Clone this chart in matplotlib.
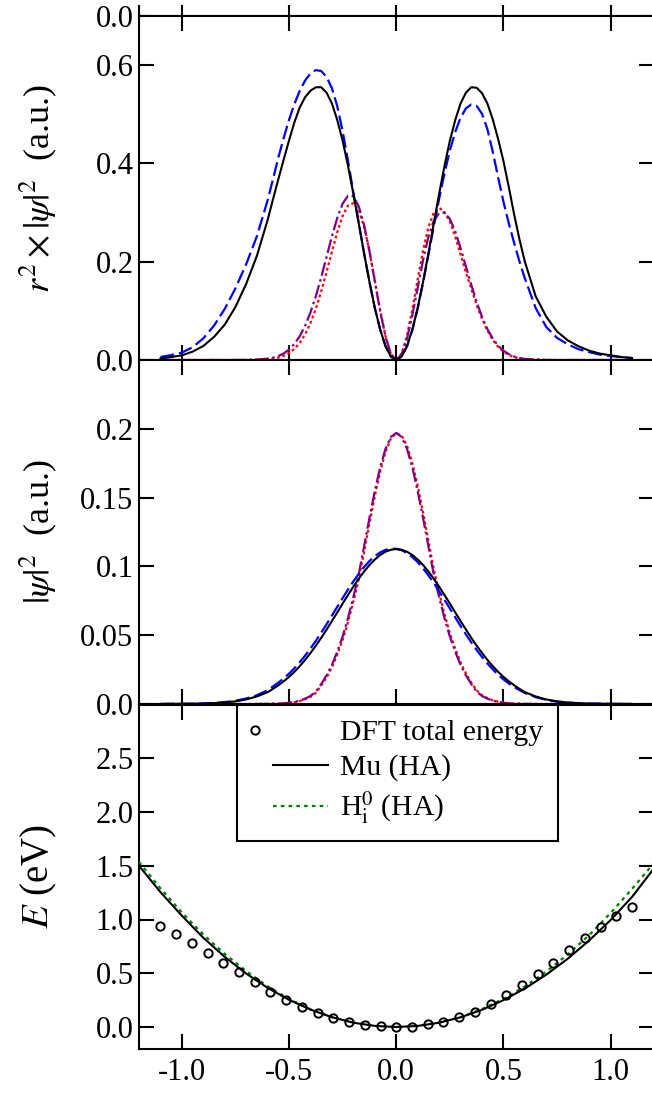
import matplotlib
matplotlib.use("Agg")
import matplotlib.pyplot as plt
from matplotlib.ticker import FixedLocator, FixedFormatter
from matplotlib.legend_handler import HandlerLine2D
from matplotlib.lines import Line2D
from matplotlib.patches import Rectangle

plt.rcParams.update({
    "font.family": ["Liberation Serif", "DejaVu Serif"],
    "mathtext.fontset": "stix",
    "axes.unicode_minus": False,
    "font.size": 22,
    "lines.scale_dashes": False,
})

# ---------------------------------------------------------------- data
# displacement grid for the wavefunction panels
x_wave = [-1.10, -1.05, -1.00, -0.95, -0.90, -0.85, -0.80, -0.75, -0.70, -0.65,
          -0.600, -0.575, -0.550, -0.525, -0.500, -0.475, -0.450, -0.425, -0.400, -0.375,
          -0.350, -0.325, -0.300, -0.275, -0.250, -0.225, -0.200, -0.175, -0.150, -0.125,
          -0.100, -0.075, -0.050, -0.025, 0.000, 0.025, 0.050, 0.075, 0.100, 0.125,
          0.150, 0.175, 0.200, 0.225, 0.250, 0.275, 0.300, 0.325, 0.350, 0.375,
          0.400, 0.425, 0.450, 0.475, 0.500, 0.525, 0.550, 0.575, 0.600,
          0.65, 0.70, 0.75, 0.80, 0.85, 0.90, 0.95, 1.00, 1.05, 1.10]

# r^2 |psi|^2
r2_solid = [0.003, 0.006, 0.0095, 0.017, 0.0285, 0.047, 0.072, 0.108, 0.155, 0.212,
            0.285, 0.327, 0.368, 0.408, 0.447, 0.484, 0.514, 0.535, 0.548, 0.555,
            0.555, 0.544, 0.522, 0.488, 0.446, 0.395, 0.338, 0.278, 0.217, 0.159,
            0.106, 0.062, 0.028, 0.007, 0.000, 0.007, 0.028, 0.062, 0.106, 0.159,
            0.217, 0.278, 0.338, 0.395, 0.446, 0.488, 0.522, 0.544, 0.555, 0.554,
            0.543, 0.522, 0.490, 0.450, 0.405, 0.352, 0.296, 0.245, 0.200,
            0.130, 0.088, 0.058, 0.040, 0.028, 0.019, 0.013, 0.0095, 0.006, 0.004]
r2_dashed = [0.006, 0.010, 0.015, 0.026, 0.044, 0.070, 0.104, 0.146, 0.195, 0.252,
             0.325, 0.368, 0.412, 0.452, 0.489, 0.521, 0.548, 0.569, 0.583, 0.590,
             0.588, 0.576, 0.553, 0.516, 0.465, 0.405, 0.341, 0.279, 0.217, 0.159,
             0.106, 0.062, 0.028, 0.007, 0.000, 0.007, 0.028, 0.061, 0.105, 0.157,
             0.214, 0.272, 0.328, 0.380, 0.426, 0.464, 0.493, 0.512, 0.520, 0.517,
             0.501, 0.470, 0.424, 0.372, 0.322, 0.278, 0.238, 0.200, 0.166,
             0.106, 0.067, 0.045, 0.032, 0.022, 0.016, 0.011, 0.008, 0.006, 0.004]
r2_dashdot = [0.0, 0.0, 0.0, 0.0, 0.0, 0.0, 0.0, 0.0, 0.0002, 0.0008,
              0.0028, 0.0048, 0.0082, 0.0134, 0.0212, 0.0327, 0.0485, 0.0698, 0.0970, 0.1301,
              0.1683, 0.2100, 0.2515, 0.2893, 0.3183, 0.3343, 0.3330, 0.3129, 0.2745, 0.2215,
              0.1603, 0.0992, 0.0472, 0.0123, 0.0, 0.011, 0.043, 0.091, 0.147, 0.203,
              0.251, 0.283, 0.299, 0.300, 0.287, 0.262, 0.228, 0.190, 0.153, 0.118,
              0.088, 0.063, 0.044, 0.029, 0.019, 0.012, 0.007, 0.004, 0.002,
              0.001, 0.0, 0.0, 0.0, 0.0, 0.0, 0.0, 0.0, 0.0, 0.0]
r2_dotted = [0.0, 0.0, 0.0, 0.0, 0.0, 0.0, 0.0, 0.0, 0.0001, 0.0005,
             0.0015, 0.0028, 0.0049, 0.0085, 0.0141, 0.0226, 0.0350, 0.0523, 0.0753, 0.1045,
             0.1396, 0.1793, 0.2208, 0.2604, 0.2934, 0.3145, 0.3192, 0.3049, 0.2713, 0.2216,
             0.1619, 0.1010, 0.0483, 0.0126, 0.0, 0.0130, 0.0495, 0.1030, 0.1641, 0.2228,
             0.2702, 0.3000, 0.3100, 0.3009, 0.282, 0.251, 0.215, 0.178, 0.145, 0.112,
             0.084, 0.060, 0.041, 0.027, 0.017, 0.010, 0.006, 0.0035, 0.002,
             0.0007, 0.0002, 0.0, 0.0, 0.0, 0.0, 0.0, 0.0, 0.0, 0.0]

# |psi|^2
psi2_solid = [0.0000, 0.0001, 0.0001, 0.0002, 0.0003, 0.0006, 0.0011, 0.0019, 0.0033, 0.0055,
              0.0086, 0.0110, 0.0136, 0.0165, 0.0197, 0.0234, 0.0275, 0.0321, 0.0371, 0.0424,
              0.0481, 0.0541, 0.0603, 0.0666, 0.0730, 0.0792, 0.0853, 0.0910, 0.0963, 0.1010,
              0.1050, 0.1083, 0.1107, 0.1121, 0.1126, 0.1121, 0.1107, 0.1083, 0.1050, 0.1010,
              0.0963, 0.0910, 0.0853, 0.0792, 0.0730, 0.0666, 0.0603, 0.0541, 0.0481, 0.0424,
              0.0371, 0.0321, 0.0275, 0.0234, 0.0197, 0.0165, 0.0136, 0.0110, 0.0086,
              0.0055, 0.0033, 0.0019, 0.0011, 0.0006, 0.0003, 0.0002, 0.0001, 0.0001, 0.0000]
psi2_dashed = [0.0000, 0.0001, 0.0001, 0.0002, 0.0004, 0.0008, 0.0014, 0.0024, 0.0040, 0.0064,
               0.0100, 0.0128, 0.0155, 0.0186, 0.0221, 0.0260, 0.0304, 0.0352, 0.0404, 0.0459,
               0.0518, 0.0580, 0.0643, 0.0707, 0.0770, 0.0832, 0.0891, 0.0946, 0.0996, 0.1039,
               0.1075, 0.1102, 0.1120, 0.1129, 0.1128, 0.1118, 0.1097, 0.1068, 0.1031, 0.0986,
               0.0935, 0.0880, 0.0820, 0.0757, 0.0694, 0.0630, 0.0567, 0.0506, 0.0448, 0.0393,
               0.0342, 0.0295, 0.0252, 0.0213, 0.0179, 0.0149, 0.0123, 0.0101, 0.0080,
               0.0050, 0.0030, 0.0017, 0.0010, 0.0005, 0.0003, 0.0002, 0.0001, 0.0000, 0.0000]
psi2_dashdot = [0.0, 0.0, 0.0, 0.0, 0.0, 0.0, 0.0, 0.0, 0.0, 0.0,
                0.0001, 0.0002, 0.0003, 0.0005, 0.0009, 0.0015, 0.0024, 0.0039, 0.0058, 0.0090,
                0.0145, 0.0208, 0.0284, 0.0381, 0.0491, 0.0624, 0.0777, 0.0942, 0.1146, 0.1352,
                0.1548, 0.1720, 0.1855, 0.1941, 0.1970, 0.1941, 0.1855, 0.1720, 0.1548, 0.1352,
                0.1146, 0.0942, 0.0777, 0.0624, 0.0491, 0.0381, 0.0284, 0.0208, 0.0145, 0.0090,
                0.0058, 0.0039, 0.0024, 0.0015, 0.0009, 0.0005, 0.0003, 0.0002, 0.0001,
                0.0, 0.0, 0.0, 0.0, 0.0, 0.0, 0.0, 0.0, 0.0, 0.0]
psi2_dotted = [0.0, 0.0, 0.0, 0.0, 0.0, 0.0, 0.0, 0.0, 0.0, 0.0,
               0.0001, 0.0002, 0.0003, 0.0004, 0.0008, 0.0013, 0.0021, 0.0035, 0.0052, 0.0081,
               0.0134, 0.0194, 0.0267, 0.0360, 0.0467, 0.0595, 0.0745, 0.0906, 0.1105, 0.1312,
               0.1511, 0.1689, 0.1832, 0.1929, 0.1968, 0.1951, 0.1878, 0.1751, 0.1585, 0.1392,
               0.1187, 0.0978, 0.0809, 0.0653, 0.0515, 0.0402, 0.0301, 0.0222, 0.0156, 0.0099,
               0.0064, 0.0043, 0.0027, 0.0017, 0.0010, 0.0006, 0.0003, 0.0002, 0.0001,
               0.0, 0.0, 0.0, 0.0, 0.0, 0.0, 0.0, 0.0, 0.0, 0.0]

# total energy along the displacement
x_dft = [-1.100, -1.027, -0.953, -0.880, -0.807, -0.733, -0.660, -0.587, -0.513, -0.440,
         -0.367, -0.293, -0.220, -0.147, -0.073, 0.000, 0.073, 0.147, 0.220, 0.293,
         0.367, 0.440, 0.513, 0.587, 0.660, 0.733, 0.807, 0.880, 0.953, 1.027, 1.100]
e_dft = [0.936, 0.861, 0.780, 0.693, 0.600, 0.507, 0.417, 0.330, 0.255, 0.187,
         0.131, 0.084, 0.047, 0.022, 0.009, 0.000, 0.003, 0.025, 0.050, 0.090,
         0.143, 0.218, 0.299, 0.389, 0.491, 0.600, 0.715, 0.827, 0.930, 1.029, 1.116]

x_fit = [-1.2, -1.1, -1.0, -0.9, -0.8, -0.7, -0.6, -0.5, -0.4, -0.3, -0.2, -0.1, 0.0,
         0.1, 0.2, 0.3, 0.4, 0.5, 0.6, 0.7, 0.8, 0.9, 1.0, 1.1, 1.2]
e_mu_ha = [1.500, 1.255, 1.035, 0.830, 0.652, 0.497, 0.364, 0.253, 0.162, 0.091, 0.040, 0.010, 0.000,
           0.010, 0.040, 0.090, 0.160, 0.250, 0.358, 0.487, 0.635, 0.805, 0.995, 1.210, 1.470]
e_h_ha = [1.535, 1.290, 1.065, 0.860, 0.680, 0.520, 0.378, 0.260, 0.165, 0.092, 0.041, 0.010, 0.000,
          0.010, 0.041, 0.093, 0.166, 0.262, 0.378, 0.515, 0.675, 0.855, 1.060, 1.285, 1.520]

x_ticks = [-1.0, -0.5, 0.0, 0.5, 1.0]
x_ticklabels = ["-1.0", "-0.5", "0.0", "0.5", "1.0"]
r2_ticks = [0.0, 0.2, 0.4, 0.6]
r2_ticklabels = ["0.0", "0.2", "0.4", "0.6"]
psi2_ticks = [0.0, 0.05, 0.1, 0.15, 0.2]
psi2_ticklabels = ["0.0", "0.05", "0.1", "0.15", "0.2"]
e_ticks = [0.0, 0.5, 1.0, 1.5, 2.0, 2.5]
e_ticklabels = ["0.0", "0.5", "1.0", "1.5", "2.0", "2.5"]

# ---------------------------------------------------------------- styles
BLUE_DASH = (0, (10.0, 3.6))
PURPLE_DASHDOT = (0, (10.0, 2.6, 1.8, 2.6))
RED_DOT = (0, (2.0, 2.0))
GREEN_DOT = (0, (2.6, 3.0))
PURPLE = "#800080"

W, H = 652, 1096
fig = plt.figure(figsize=(W / 100, H / 100), dpi=100)


def box(top_px, bottom_px, left_px=139.0, right_px=653.5):
    return [left_px / W, 1 - bottom_px / H, (right_px - left_px) / W, (bottom_px - top_px) / H]


def style(ax):
    ax.set_xlim(-1.2, 1.2)
    ax.xaxis.set_major_locator(FixedLocator(x_ticks))
    ax.tick_params(axis="both", which="both", direction="in", length=10.8, width=1.5,
                   top=True, right=True, labelsize=22)
    ax.tick_params(axis="y", pad=4)
    ax.tick_params(axis="x", pad=7)
    for s in ax.spines.values():
        s.set_linewidth(1.5)


ax0 = fig.add_axes(box(-150, 16))
ax1 = fig.add_axes(box(16, 360))
ax2 = fig.add_axes(box(360, 704))
ax3 = fig.add_axes(box(704.5, 1048.5))

for ax in (ax0, ax1, ax2, ax3):
    style(ax)
for ax in (ax0, ax1, ax2):
    ax.tick_params(labelbottom=False)

# panel above (only its lower edge is in view)
ax0.set_ylim(0.0, 1.0)
ax0.yaxis.set_major_locator(FixedLocator([0.0]))
ax0.yaxis.set_major_formatter(FixedFormatter(["0.0"]))

# r^2 |psi|^2 panel
ax1.plot(x_wave, r2_solid, color="black", lw=1.5, zorder=4)
ax1.plot(x_wave, r2_dashed, color="blue", lw=1.6, ls=BLUE_DASH, zorder=3)
ax1.plot(x_wave, r2_dotted, color="red", lw=1.6, ls=RED_DOT, zorder=2)
ax1.plot(x_wave, r2_dashdot, color=PURPLE, lw=1.6, ls=PURPLE_DASHDOT, zorder=2.5)
ax1.set_ylim(0.0, 0.70)
ax1.yaxis.set_major_locator(FixedLocator(r2_ticks))
ax1.yaxis.set_major_formatter(FixedFormatter(r2_ticklabels))
ax1.set_ylabel(r"$r^2\times|\psi|^2$  (a.u.)", fontsize=26)

# |psi|^2 panel
ax2.plot(x_wave, psi2_solid, color="black", lw=1.5, zorder=4)
ax2.plot(x_wave, psi2_dashed, color="blue", lw=1.6, ls=BLUE_DASH, zorder=3)
ax2.plot(x_wave, psi2_dotted, color="red", lw=1.6, ls=RED_DOT, zorder=2)
ax2.plot(x_wave, psi2_dashdot, color=PURPLE, lw=1.6, ls=PURPLE_DASHDOT, zorder=2.5)
ax2.set_ylim(0.0, 0.25)
ax2.yaxis.set_major_locator(FixedLocator(psi2_ticks))
ax2.yaxis.set_major_formatter(FixedFormatter(psi2_ticklabels))
ax2.set_ylabel(r"$|\psi|^2$  (a.u.)", fontsize=26)

# energy panel
dft, = ax3.plot(x_dft, e_dft, ls="none", marker="o", ms=6.0, mfc="none", mec="black",
                mew=1.4, zorder=5, label="DFT total energy")
mu, = ax3.plot(x_fit, e_mu_ha, color="black", lw=1.5, zorder=4, label="Mu (HA)")
hi, = ax3.plot(x_fit, e_h_ha, color="green", lw=1.6, ls=GREEN_DOT, zorder=3,
               label=r"H$_{\mathrm{i}}^{0}$ (HA)")
ax3.set_ylim(-0.2, 3.0)
ax3.yaxis.set_major_locator(FixedLocator(e_ticks))
ax3.yaxis.set_major_formatter(FixedFormatter(e_ticklabels))
ax3.xaxis.set_major_formatter(FixedFormatter(x_ticklabels))
ax3.set_ylabel(r"$E$ (eV)", fontsize=28)

for ax in (ax1, ax2, ax3):
    ax.yaxis.set_label_coords(-0.155, 0.5)


class ShiftedHandle(HandlerLine2D):
    """Legend handle whose line starts part-way in and whose marker sits near the left."""

    def __init__(self, line_start=0.0, marker_at=0.5, **kw):
        super().__init__(numpoints=1, **kw)
        self.line_start = line_start
        self.marker_at = marker_at

    def create_artists(self, legend, orig_handle, xdescent, ydescent, width, height,
                       fontsize, trans):
        arts = super().create_artists(legend, orig_handle, xdescent, ydescent, width,
                                      height, fontsize, trans)
        x0 = -xdescent + self.line_start * width
        x1 = -xdescent + width
        xm = -xdescent + self.marker_at * width
        for a in arts:
            if isinstance(a, Line2D):
                a.set_xdata([x0, xm, x1])
        return arts


leg = ax3.legend(
    handles=[dft, mu, hi],
    loc="upper left", bbox_to_anchor=((236.5 - 139.0) / (653.5 - 139.0), 1.0),
    borderaxespad=0.0, frameon=True, fancybox=False, framealpha=1.0,
    edgecolor="black", fontsize=21.3, handlelength=2.6, handletextpad=0.4,
    borderpad=0.5, labelspacing=0.28,
    handler_map={dft: ShiftedHandle(line_start=0.0, marker_at=0.05),
                 mu: ShiftedHandle(line_start=0.28, marker_at=0.6),
                 hi: ShiftedHandle(line_start=0.28, marker_at=0.6)},
)
leg.get_frame().set_linewidth(1.5)

# blank strip along the very top edge
fig.add_artist(Rectangle((0, 1 - 5 / H), 1, 5 / H, transform=fig.transFigure,
                         facecolor="white", edgecolor="none", zorder=20))

fig.savefig("out.png", dpi=100)
